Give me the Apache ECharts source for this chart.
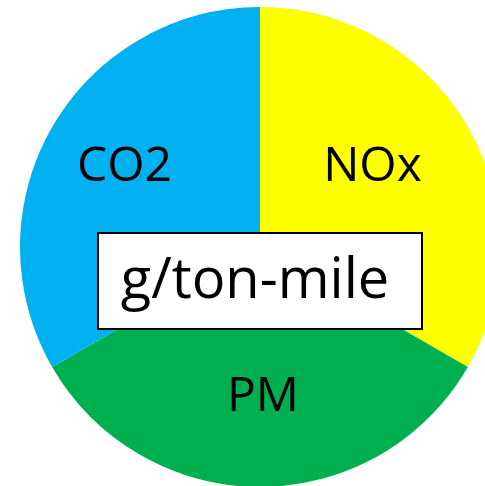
<!DOCTYPE html>
<html>
<head>
<meta charset="utf-8">
<script src="https://cdn.jsdelivr.net/npm/echarts@6/dist/echarts.min.js"></script>
<style>
html,body{margin:0;padding:0;background:#fff;}
#chart{width:485px;height:486px;}
</style>
</head>
<body>
<div id="chart"></div>
<script>
var categories = ['NOx', 'PM', 'CO2'];
var values = [1, 1, 1];
var colors = ['#FFFF00', '#00B050', '#00B0F0'];
var unitLabel = 'g/ton-mile';
var labelShift = [[6, -18], [3, 27], [-29, -18]];

var chart = echarts.init(document.getElementById('chart'), null, {renderer: 'canvas'});
var data = categories.map(function (c, i) {
  return {name: c, value: values[i], itemStyle: {color: colors[i]}};
});
chart.setOption({
  animation: false,
  series: [{
    type: 'pie',
    center: [260, 247],
    radius: 240,
    startAngle: 90,
    clockwise: true,
    silent: true,
    label: {
      show: true,
      position: 'inside',
      formatter: '{b}',
      color: '#000',
      fontSize: 48,
      fontFamily: 'Open Sans'
    },
    labelLine: {show: false},
    labelLayout: function (p) {
      var s = labelShift[p.dataIndex];
      return {dx: s[0], dy: s[1]};
    },
    itemStyle: {borderWidth: 0},
    data: data
  }],
  graphic: [{
    type: 'group',
    left: 97,
    top: 232,
    z: 100,
    children: [{
      type: 'rect',
      z: 100,
      shape: {x: 1, y: 1, width: 324, height: 96},
      style: {fill: '#fff', stroke: '#000', lineWidth: 2}
    }, {
      type: 'text',
      z: 101,
      x: 158,
      y: 50,
      style: {
        text: unitLabel,
        fill: '#000',
        fontSize: 56,
        fontFamily: 'Open Sans',
        align: 'center',
        verticalAlign: 'middle'
      }
    }]
  }]
});
</script>
</body>
</html>
